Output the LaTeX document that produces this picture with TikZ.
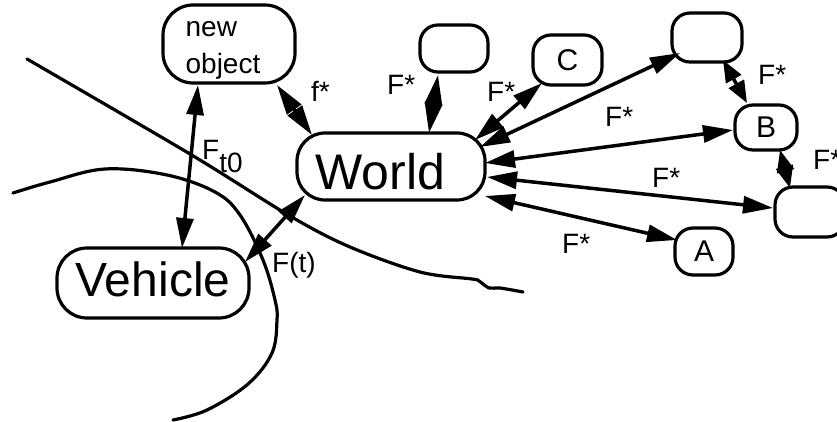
\documentclass[tikz,border=0pt]{standalone}
\usepackage{fontspec}
\setmainfont{Liberation Sans}
\usetikzlibrary{arrows.meta}
\begin{document}
\begin{tikzpicture}[x=1pt,y=-1pt,
  box/.style={draw,line width=3.2pt,rounded corners=18pt,inner sep=0pt},
  small/.style={box,font=\fontsize{30}{36}\selectfont},
  dbl/.style={line width=3.5pt,{Triangle[length=30pt,width=17pt]}-{Triangle[length=30pt,width=17pt]}},
  dbls/.style={line width=3.5pt,{Triangle[length=22pt,width=17pt]}-{Triangle[length=22pt,width=17pt]}},
  curve/.style={line width=3.2pt,line cap=round,line join=round},
  lab/.style={anchor=base west,inner sep=0pt,font=\fontsize{28}{34}\selectfont}]
\useasboundingbox (0,0) rectangle (837,422);
\clip (0,0) rectangle (837,422);

% boundary curves
\draw[curve] plot[smooth,tension=0.55] coordinates {(27,59) (190,154) (290,216) (350,247) (420,272) (472,279) (479,281) (489,288) (500,288) (523,292)};
\draw[curve] plot[smooth,tension=0.6] coordinates {(13,193) (50,182) (105,169) (167,175) (215,192) (240,215) (263,260) (275,300) (277,320) (272,353) (248,384) (207,410) (173,420)};

% nodes
\node[box,minimum width=132pt,minimum height=78pt,rounded corners=30pt,
      font=\fontsize{28}{37}\selectfont] (newobj) at (229,44)
      {\hspace*{-12pt}\raisebox{-10pt}[0pt][0pt]{\begin{tabular}{@{}l@{}}new\\object\end{tabular}}};
\node[box,minimum width=188pt,minimum height=67pt,rounded corners=28pt,
      font=\fontsize{50}{60}\selectfont,text height=46pt,text depth=0pt] (world) at (391,166.5) {\hspace*{-21pt}World};
\node[box,minimum width=192pt,minimum height=70pt,rounded corners=30pt,
      font=\fontsize{48}{58}\selectfont,text height=30pt,text depth=2.6pt] (vehicle) at (153,283) {Vehicle};
\node[small,minimum width=68pt,minimum height=47pt] (e1) at (454,48.5) {};
\node[small,minimum width=69pt,minimum height=50pt] (c) at (567.5,60) {C};
\node[small,minimum width=70pt,minimum height=49pt] (e2) at (707,37.5) {};
\node[small,minimum width=62pt,minimum height=45pt] (b) at (766,127.5) {B};
\node[small,minimum width=70pt,minimum height=50pt] (e3) at (810,212) {};
\node[small,minimum width=58pt,minimum height=47pt] (a) at (704,251.5) {A};

% connectors
\draw[dbl] ([shift={(-31,41)}]newobj.center) -- ([shift={(29,-35)}]vehicle.center);
\draw[dbl] ([shift={(48,41)}]newobj.center) -- ([shift={(-79,-31.5)}]world.center);
\draw[dbl] ([shift={(-86,28.5)}]world.center) -- ([shift={(92,-21)}]vehicle.center);
\draw[dbl] ([shift={(38,-33.5)}]world.center) -- ([shift={(-16,26.5)}]e1.center);
\draw[dbl] ([shift={(84,-26.5)}]world.center) -- ([shift={(-25.5,23)}]c.center);
\draw[dbl] ([shift={(89,-19.5)}]world.center) -- ([shift={(-27,15.5)}]e2.center);
\draw[dbl] ([shift={(94,-3.5)}]world.center) -- ([shift={(-33,2.5)}]b.center);
\draw[dbl] ([shift={(96,10.5)}]world.center) -- ([shift={(-37,-4)}]e3.center);
\draw[dbl] ([shift={(94,29.5)}]world.center) -- ([shift={(-27,-11.5)}]a.center);
\draw[dbls] ([shift={(16,22.5)}]e2.center) -- ([shift={(-19,-24.5)}]b.center);
\draw[dbls] ([shift={(14,22.5)}]b.center) -- ([shift={(-20,-24)}]e3.center);

% labels
\node[lab] (lft) at (202,160) {F\raisebox{-13pt}{t0}};
\node[lab] (lf) at (311,102) {f*};
\node[lab] (lFt) at (272,272) {F(t)};
\node[lab] (l1) at (387,95) {F*};
\node[lab] (l2) at (487,102) {F*};
\node[lab] (l3) at (605,127) {F*};
\node[lab] (l4) at (652,187) {F*};
\node[lab] (l5) at (562,253) {F*};
\node[lab] (l6) at (758,85) {F*};
\node[lab] (l7) at (813,170) {F*};
\end{tikzpicture}
\end{document}
